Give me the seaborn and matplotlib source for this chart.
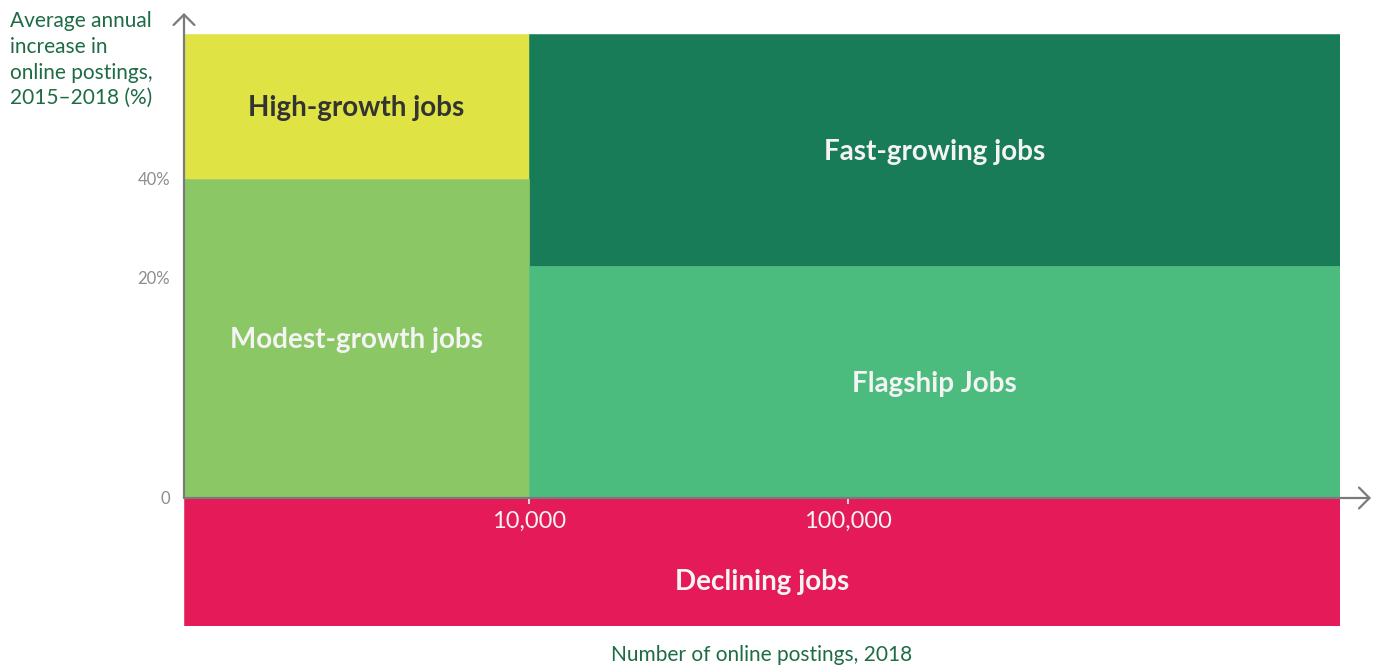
import numpy as np
import pandas as pd
import matplotlib
matplotlib.use("Agg")
import matplotlib.pyplot as plt
from matplotlib.ticker import NullLocator
import seaborn as sns

sns.set_theme(style="white")
plt.rcParams["font.family"] = ["Lato", "DejaVu Sans"]

# Job segments: posting-volume range (x) and growth range in % (y)
categories = ["High-growth jobs", "Fast-growing jobs", "Modest-growth jobs",
              "Flagship Jobs", "Declining jobs"]
postings_from = [830, 10_000, 830, 10_000, 830]
postings_to = [10_000, 3_500_000, 10_000, 3_500_000, 3_500_000]
growth_from = [40, 22.3, 0, 0, -10]
growth_to = [70, 70, 40, 22.3, 0]

x_ticks = [10_000, 100_000]
x_tick_labels = ["10,000", "100,000"]
y_ticks = [0, 20, 40]
y_tick_labels = ["0", "20%", "40%"]

fill_colors = ["#DFE343", "#197C59", "#8BC764", "#4CBB7E", "#E51A58"]
text_colors = ["#333333", "#F4F4F4", "#F4F4F4", "#F4F4F4", "#F4F4F4"]
label_shift_pt = [-1.5, -1.5, -1.5, -1.5, -14.8]

df = pd.DataFrame({
    "segment": categories,
    "x0": postings_from, "x1": postings_to,
    "y0": growth_from, "y1": growth_to,
})

# Piecewise-linear growth scale: the band near zero is stretched
Y_KNOTS = [-100, -10, 0, 20, 40, 70, 200]
Y_SPAN = [-1275.0, -127.5, 0.0, 220.5, 319.5, 464.0, 1092.3]


def y_forward(v):
    return np.interp(v, Y_KNOTS, Y_SPAN)


def y_inverse(p):
    return np.interp(p, Y_SPAN, Y_KNOTS)


W, H = 1379, 666
fig = plt.figure(figsize=(W / 100, H / 100), dpi=100)
fig.patch.set_facecolor("white")
ax = fig.add_axes([184 / W, (H - 625.5) / H, 1156 / W, 591.5 / H])
ax.set_facecolor("white")
ax.set_axisbelow(False)
ax.set_xscale("log")
ax.set_yscale("function", functions=(y_forward, y_inverse))

for (row, fc) in zip(df.itertuples(), fill_colors):
    ax.bar(x=row.x0, height=row.y1 - row.y0, width=row.x1 - row.x0, bottom=row.y0,
           align="edge", color=fc, edgecolor=fc, linewidth=0.4, zorder=1)

ax.set_xlim(830, 3_500_000)
ax.set_ylim(-10, 70)

# Segment names centred in each block
for row, tc, dy in zip(df.itertuples(), text_colors, label_shift_pt):
    xc = 10 ** ((np.log10(row.x0) + np.log10(row.x1)) / 2)
    yc = float(y_inverse((y_forward(row.y0) + y_forward(row.y1)) / 2))
    ax.annotate(row.segment, (xc, yc), xytext=(0, dy), textcoords="offset points",
                ha="center", va="center", fontsize=20, fontweight="bold",
                color=tc, zorder=4)

sns.despine(ax=ax, left=True, bottom=True, top=True, right=True)
ax.spines["bottom"].set_position(("data", 0))

ax.set_xticks(x_ticks, x_tick_labels)
ax.xaxis.set_minor_locator(NullLocator())
ax.tick_params(axis="x", bottom=True, length=4, width=1.2, color="#F4F4F4",
               direction="out", pad=5, labelsize=17, labelcolor="#F4F4F4")

ax.set_yticks(y_ticks, y_tick_labels)
ax.yaxis.set_minor_locator(NullLocator())
ax.tick_params(axis="y", left=True, length=0, pad=10, labelsize=12,
               labelcolor="#8C8C8C")
ax.grid(False)

# Axis lines with open arrowheads
arrow_kw = dict(arrowstyle="->,head_length=0.5,head_width=0.5", color="#7A7A7A",
                lw=1.6, shrinkA=0, shrinkB=0, mutation_scale=15)
ax.annotate("", xy=(1 + 31 / 1156, 0), xycoords=ax.get_yaxis_transform(),
            xytext=(0, 0), textcoords=ax.get_yaxis_transform(),
            arrowprops=arrow_kw, zorder=3)
ax.annotate("", xy=(0, 1 + 21 / 591.5), xycoords="axes fraction",
            xytext=(0, 0), textcoords=ax.get_yaxis_transform(),
            arrowprops=arrow_kw, zorder=3)

title_color = "#1E6B46"
fig.text(10 / W, 1 - 11 / H, "Average annual\nincrease in\nonline postings,\n2015–2018 (%)",
         ha="left", va="top", fontsize=15, color=title_color, linespacing=1.36)
fig.text(762 / W, 1 - 655 / H, "Number of online postings, 2018",
         ha="center", va="center", fontsize=15, color=title_color)

fig.savefig("out.png", dpi=100, facecolor="white")
